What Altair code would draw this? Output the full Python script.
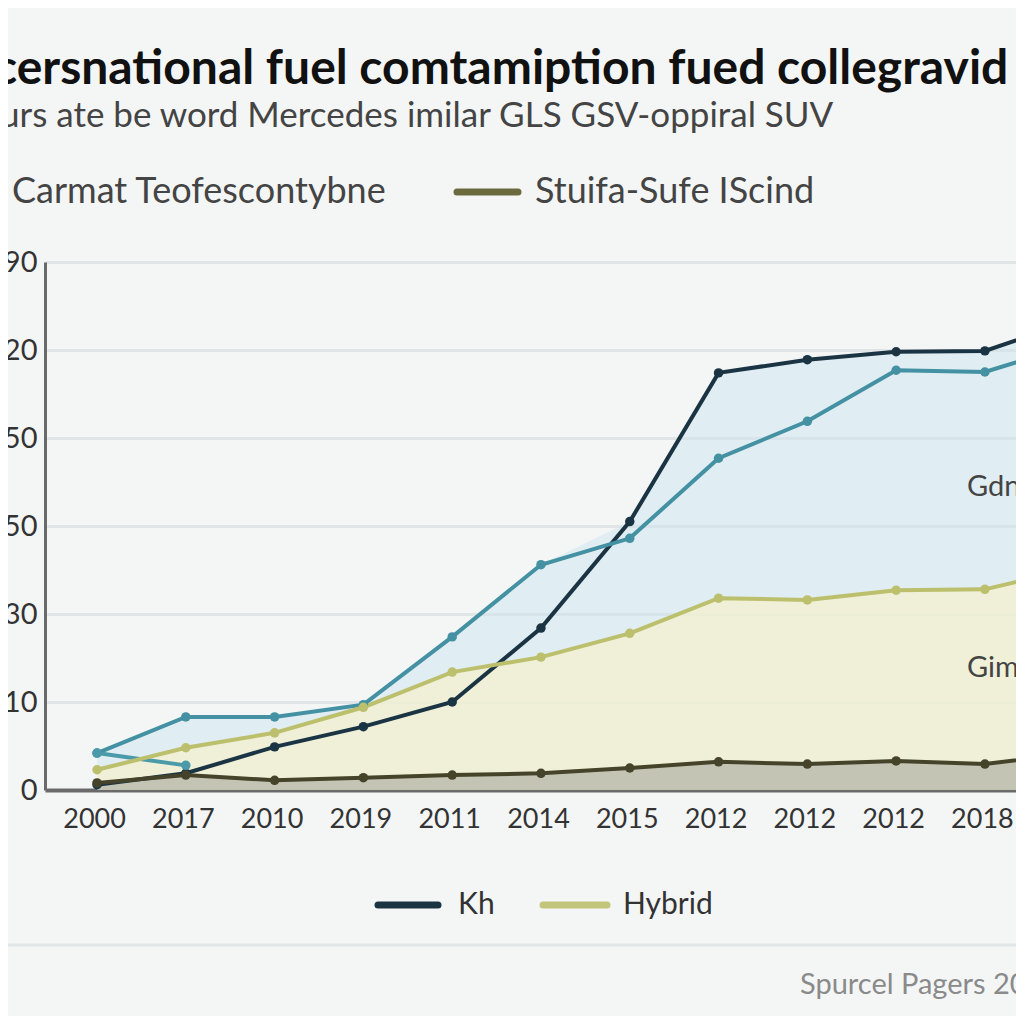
import altair as alt
import pandas as pd

# ---- data ----
years = ["2000", "2017", "2010", "2019", "2011", "2014", "2015", "2012", "2012", "2012", "2018"]
y_tick_labels = ["0", "10", "30", "50", "50", "20", "90"]

kh = [0.6, 1.9, 4.9, 7.2, 10.0, 18.4, 30.5, 47.4, 48.9, 49.8, 49.9, 53.3]
teal = [4.2, 8.3, 8.3, 9.7, 17.4, 25.6, 28.6, 37.7, 41.9, 47.7, 47.5, 50.6]
teal_branch = [4.2, 2.8]
hybrid = [2.3, 4.8, 6.5, 9.4, 13.4, 15.1, 17.8, 21.8, 21.6, 22.7, 22.8, 25.2]
stuifa = [0.8, 1.7, 1.1, 1.4, 1.7, 1.9, 2.5, 3.2, 2.95, 3.3, 2.95, 4.2]

series_names = ["Teal", "TealB", "Hybrid", "Stuifa", "Kh"]
series_colors = ["#4391a2", "#4a9aaa", "#bcbf6c", "#45442a", "#1b3443"]

rows = []
for name, vals in [("Kh", kh), ("Teal", teal), ("TealB", teal_branch),
                   ("Hybrid", hybrid), ("Stuifa", stuifa)]:
    for i, v in enumerate(vals):
        rows.append({"series": name, "idx": i, "value": v})
df = pd.DataFrame(rows)

area_df = pd.DataFrame({
    "idx": list(range(len(kh))),
    "top": [max(a, b) for a, b in zip(kh, teal)],
    "hyb": hybrid,
    "stu": stuifa,
})

FONT = "Lato"
W, H = 971, 528

xs = alt.Scale(domain=[-0.586, 10.35], nice=False, zero=False)
ys = alt.Scale(domain=[0, 60], nice=False)

x_lab = "[" + ",".join("'%s'" % y for y in years) + "][datum.value]"
y_lab = "[" + ",".join("'%s'" % y for y in y_tick_labels) + "][datum.value/10]"

x_axis = alt.Axis(values=list(range(len(years))), labelExpr=x_lab, grid=False, ticks=False,
                  domainColor="#6a6a6a", domainWidth=4, labelFontSize=27, labelColor="#333333",
                  labelPadding=16, labelOffset=-3, labelFont=FONT, title=None)
y_axis = alt.Axis(values=[0, 10, 20, 30, 40, 50, 60], labelExpr=y_lab, grid=True,
                  gridColor="#e1e5e5", gridWidth=3, ticks=False, domainColor="#6a6a6a",
                  domainWidth=3, labelFontSize=29, labelColor="#333333", labelPadding=8,
                  labelFont=FONT, title=None)

base_area = alt.Chart(area_df)
blue = base_area.mark_area(color="#cfe6ee", opacity=0.55, clip=True).encode(
    x=alt.X("idx:Q", scale=xs, axis=x_axis), y=alt.Y("top:Q", scale=ys, axis=y_axis))
cream = base_area.mark_area(color="#f1f0d2", opacity=0.85, clip=True).encode(
    x=alt.X("idx:Q", scale=xs), y=alt.Y("hyb:Q", scale=ys))
gray = base_area.mark_area(color="#b9b9ab", opacity=0.8, clip=True).encode(
    x=alt.X("idx:Q", scale=xs), y=alt.Y("stu:Q", scale=ys))

color = alt.Color("series:N", scale=alt.Scale(domain=series_names, range=series_colors), legend=None)
lines = alt.Chart(df).mark_line(strokeWidth=4, clip=True).encode(
    x=alt.X("idx:Q", scale=xs), y=alt.Y("value:Q", scale=ys), color=color,
    detail="series:N", order="idx:Q")
points = alt.Chart(df).mark_circle(size=90, opacity=1, clip=True).encode(
    x=alt.X("idx:Q", scale=xs), y=alt.Y("value:Q", scale=ys), color=color)

one = pd.DataFrame({"k": [0]})

def label(txt, x, y, size, col, weight="normal", align="left"):
    return alt.Chart(one).mark_text(text=txt, align=align, baseline="middle", fontSize=size,
                                    color=col, fontWeight=weight, font=FONT).encode(
        x=alt.value(x), y=alt.value(y))

def swatch(x1, x2, y, col):
    return alt.Chart(one).mark_rule(color=col, strokeWidth=7, strokeCap="round").encode(
        x=alt.value(x1), x2=alt.value(x2), y=alt.value(y))

decor = [
    alt.Chart(one).mark_rule(color="#e3e6e6", strokeWidth=3).encode(
        x=alt.value(-45), x2=alt.value(980), y=alt.value(683)),
    label("cersnational fuel comtamiption fued collegravid", -51, -192, 48, "#111111", "bold"),
    label("urs ate be word Mercedes imilar GLS GSV-oppiral SUV", -45, -146, 35, "#444444"),
    label("Carmat Teofescontybne", -33, -70, 36, "#444444"),
    swatch(412, 473, -70, "#6b6a3c"),
    label("Stuifa-Sufe IScind", 490, -70, 36, "#444444"),
    label("Gdn", 922, 225, 29, "#444444"),
    label("Gim", 922, 406, 29, "#444444"),
    swatch(333, 393, 643, "#1b3443"),
    label("Kh", 413, 643, 30, "#333333"),
    swatch(498, 562, 643, "#c3c57a"),
    label("Hybrid", 578, 643, 30, "#333333"),
    label("Spurcel Pagers 2024", 755, 723, 29, "#8a8a8a"),
]

chart = alt.layer(blue, cream, gray, lines, points, *decor).properties(
    width=W, height=H,
    autosize=alt.AutoSizeParams(type="none"),
    padding={"left": 37, "top": 254, "right": 0, "bottom": 226},
    background="#f4f6f6",
).configure_view(stroke=None)

chart.save("out.html", embed_options={"renderer": "svg", "actions": False})
